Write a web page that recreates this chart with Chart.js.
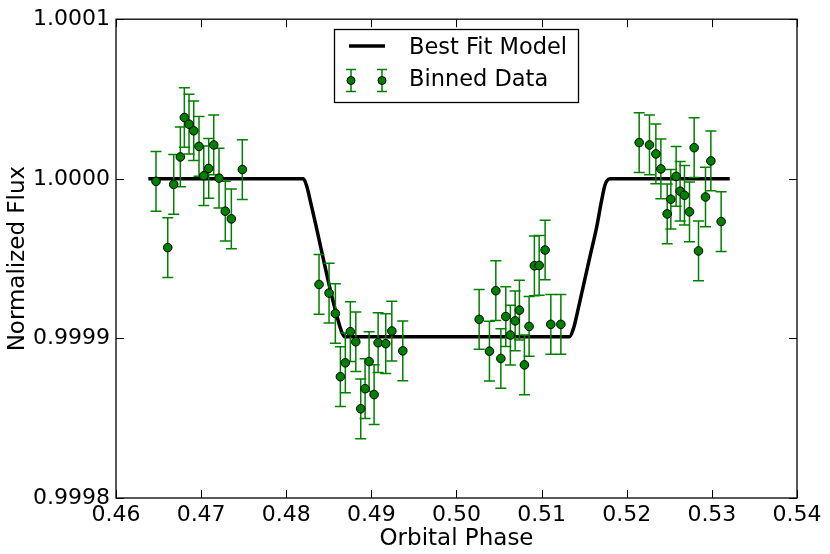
<!DOCTYPE html>
<html>
<head>
<meta charset="utf-8">
<script src="https://cdn.jsdelivr.net/npm/chart.js@4.4.0/dist/chart.umd.min.js"></script>
<style>
  body { margin: 0; background: #fff; }
  #wrap { width: 830px; height: 554px; position: relative; }
</style>
</head>
<body>
<div id="wrap"><canvas id="lightCurve"></canvas></div>
<script>
// Binned data
const binPhase = [
  0.46470, 0.46608, 0.46678, 0.46756, 0.46803, 0.46858, 0.46913, 0.46975,
  0.47031, 0.47089, 0.47148, 0.47210, 0.47284, 0.47355, 0.47484,
  0.48385, 0.48503, 0.48577, 0.48636, 0.48694, 0.48753, 0.48817, 0.48875,
  0.48926, 0.48973, 0.49032, 0.49079, 0.49169, 0.49240, 0.49369,
  0.50266, 0.50387, 0.50462, 0.50521, 0.50579, 0.50633, 0.50689, 0.50739,
  0.50798, 0.50853, 0.50915, 0.50971, 0.51041, 0.51108, 0.51226,
  0.52146, 0.52267, 0.52342, 0.52401, 0.52475, 0.52518, 0.52580, 0.52627,
  0.52678, 0.52737, 0.52792, 0.52843, 0.52925, 0.52988, 0.53109
];
const binFlux = [
  0.9999984, 0.9999569, 0.9999965, 1.0000137, 1.0000384, 1.0000342, 1.0000301, 1.0000203,
  1.0000019, 1.0000065, 1.0000212, 1.0000004, 0.9999797, 0.9999749, 1.0000058,
  0.9999338, 0.9999284, 0.9999156, 0.9998760, 0.9998847, 0.9999042, 0.9998979, 0.9998559,
  0.9998685, 0.9998855, 0.9998648, 0.9998973, 0.9998967, 0.9999046, 0.9998922,
  0.9999119, 0.9998920, 0.9999299, 0.9998874, 0.9999137, 0.9999021, 0.9999110, 0.9999177,
  0.9998834, 0.9999075, 0.9999455, 0.9999457, 0.9999554, 0.9999088, 0.9999088,
  1.0000227, 1.0000212, 1.0000156, 1.0000062, 0.9999780, 0.9999872, 1.0000015, 0.9999922,
  0.9999897, 0.9999793, 1.0000195, 0.9999548, 0.9999886, 1.0000112, 0.9999732
];
const fluxErr = 0.0000187;

// Best fit transit model
const modelPhase = [
  0.46380, 0.48201, 0.48241, 0.48288, 0.48358, 0.48436, 0.48515, 0.48593, 0.48652, 0.48691,
  0.51327, 0.51374, 0.51421, 0.51491, 0.51570, 0.51649, 0.51707, 0.51746, 0.51805, 0.53210
];
const modelFlux = [
  1.0000000, 1.0000000, 0.9999953, 0.9999849, 0.9999686, 0.9999497, 0.9999310, 0.9999144, 0.9999040, 0.9999010,
  0.9999010, 0.9999062, 0.9999165, 0.9999331, 0.9999518, 0.9999704, 0.9999871, 0.9999964, 1.0000000, 1.0000000
];

const xTicks = [0.46, 0.47, 0.48, 0.49, 0.50, 0.51, 0.52, 0.53, 0.54];
const yTicks = [0.9998, 0.9999, 1.0000, 1.0001];

const FONT = 'DejaVu Sans';
const GREEN = '#008000';

// error bars go right under the markers
const errorBars = {
  id: 'errorBars',
  beforeDatasetDraw(chart, args) {
    if (args.index !== 1) return;
    const { ctx, scales: { x, y } } = chart;
    ctx.save();
    ctx.strokeStyle = GREEN;
    ctx.lineWidth = 1.5;
    binPhase.forEach((p, i) => {
      const px = x.getPixelForValue(p);
      const top = y.getPixelForValue(binFlux[i] + fluxErr);
      const bot = y.getPixelForValue(binFlux[i] - fluxErr);
      ctx.beginPath();
      ctx.moveTo(px, top); ctx.lineTo(px, bot);
      ctx.moveTo(px - 5.5, top); ctx.lineTo(px + 5.5, top);
      ctx.moveTo(px - 5.5, bot); ctx.lineTo(px + 5.5, bot);
      ctx.stroke();
    });
    ctx.restore();
  }
};

// matplotlib-ish frame with inward ticks on all four sides
const frame = {
  id: 'frame',
  afterDatasetsDraw(chart) {
    const { ctx, chartArea: a, scales: { x, y } } = chart;
    ctx.save();
    ctx.strokeStyle = '#000';
    ctx.lineWidth = 1;
    ctx.beginPath();
    x.ticks.forEach(t => {
      const px = Math.round(x.getPixelForValue(t.value)) + 0.5;
      ctx.moveTo(px, a.bottom); ctx.lineTo(px, a.bottom - 8);
      ctx.moveTo(px, a.top); ctx.lineTo(px, a.top + 8);
    });
    y.ticks.forEach(t => {
      const py = Math.round(y.getPixelForValue(t.value)) + 0.5;
      ctx.moveTo(a.left, py); ctx.lineTo(a.left + 8, py);
      ctx.moveTo(a.right, py); ctx.lineTo(a.right - 8, py);
    });
    ctx.stroke();
    ctx.lineWidth = 1.3;
    ctx.strokeRect(a.left, a.top, a.right - a.left, a.bottom - a.top);
    ctx.restore();
  }
};

const legendBox = {
  id: 'legendBox',
  afterDraw(chart) {
    const { ctx } = chart;
    ctx.save();
    ctx.fillStyle = '#fff';
    ctx.fillRect(334.5, 29.5, 244, 73);
    ctx.strokeStyle = '#000';
    ctx.lineWidth = 1.3;
    ctx.strokeRect(334.5, 29.5, 244, 73);

    ctx.lineWidth = 3.5;
    ctx.beginPath();
    ctx.moveTo(349, 46); ctx.lineTo(385, 46);
    ctx.stroke();

    [351, 382].forEach(mx => {
      ctx.strokeStyle = GREEN;
      ctx.lineWidth = 1.5;
      ctx.beginPath();
      ctx.moveTo(mx, 69.5); ctx.lineTo(mx, 91.5);
      ctx.moveTo(mx - 5, 69.5); ctx.lineTo(mx + 5, 69.5);
      ctx.moveTo(mx - 5, 91.5); ctx.lineTo(mx + 5, 91.5);
      ctx.stroke();
      ctx.beginPath();
      ctx.arc(mx, 80.5, 4, 0, Math.PI * 2);
      ctx.fillStyle = GREEN;
      ctx.fill();
      ctx.strokeStyle = '#000';
      ctx.lineWidth = 1;
      ctx.stroke();
    });

    ctx.fillStyle = '#000';
    ctx.font = '22.5px "' + FONT + '"';
    ctx.textBaseline = 'middle';
    ctx.fillText('Best Fit Model', 409, 48);
    ctx.fillText('Binned Data', 409, 80);
    ctx.restore();
  }
};

const tickFont = { family: FONT, size: 22 };
const titleFont = { family: FONT, size: 23 };

new Chart(document.getElementById('lightCurve'), {
  type: 'scatter',
  data: {
    datasets: [{
      type: 'line',
      label: 'Best Fit Model',
      data: modelPhase.map((p, i) => ({ x: p, y: modelFlux[i] })),
      borderColor: '#000',
      borderWidth: 3.5,
      pointRadius: 0,
      cubicInterpolationMode: 'monotone',
      fill: false,
      order: 1
    }, {
      label: 'Binned Data',
      data: binPhase.map((p, i) => ({ x: p, y: binFlux[i] })),
      backgroundColor: GREEN,
      borderColor: '#000',
      borderWidth: 1,
      pointRadius: 4.3,
      order: 0
    }]
  },
  options: {
    responsive: true,
    maintainAspectRatio: false,
    animation: false,
    layout: { padding: { left: 0, top: 16, right: 33, bottom: 0 } },
    plugins: {
      legend: { display: false },
      tooltip: { enabled: false }
    },
    scales: {
      x: {
        type: 'linear',
        min: 0.46,
        max: 0.54,
        afterBuildTicks: s => { s.ticks = xTicks.map(v => ({ value: v })); },
        afterFit: s => { s.height = 56; },
        grid: { display: false, drawTicks: false },
        border: { display: false },
        ticks: {
          color: '#000',
          font: tickFont,
          padding: 4,
          maxRotation: 0,
          autoSkip: false,
          callback: v => v.toFixed(2)
        },
        title: {
          display: true,
          text: 'Orbital Phase',
          color: '#000',
          font: titleFont,
          padding: { top: 0, bottom: 1 }
        }
      },
      y: {
        min: 0.9998,
        max: 1.0001,
        afterBuildTicks: s => { s.ticks = yTicks.map(v => ({ value: v })); },
        afterFit: s => { s.width = 116; },
        grid: { display: false, drawTicks: false },
        border: { display: false },
        ticks: {
          color: '#000',
          font: tickFont,
          padding: 6,
          callback: v => v.toFixed(4)
        },
        title: {
          display: true,
          text: 'Normalized Flux',
          color: '#000',
          font: titleFont,
          padding: { top: 4, bottom: 0 }
        }
      }
    }
  },
  plugins: [errorBars, frame, legendBox]
});
</script>
</body>
</html>
